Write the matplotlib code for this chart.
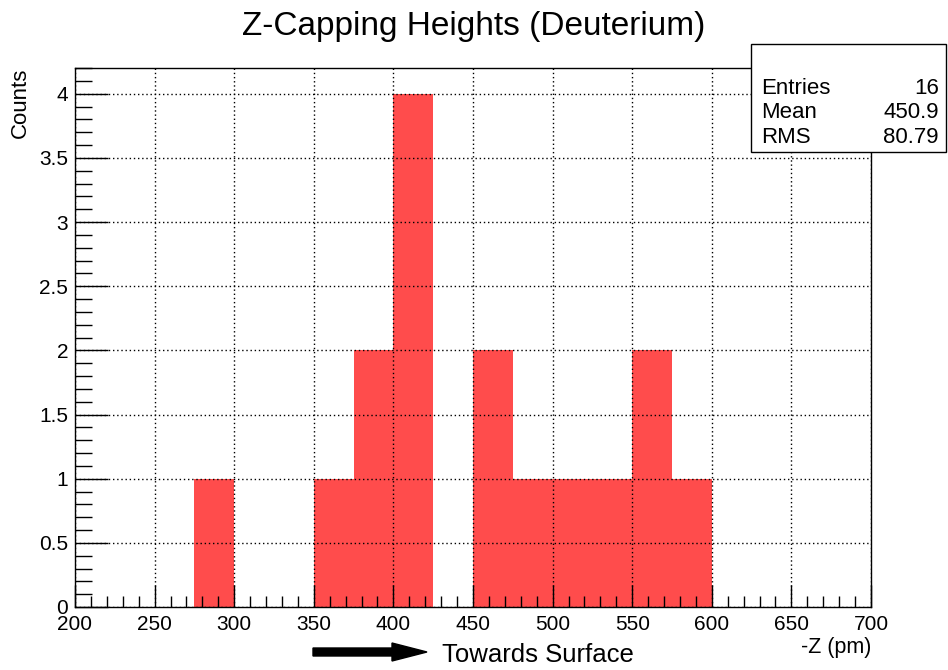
import numpy as np
import matplotlib
matplotlib.use("Agg")
from matplotlib import pyplot as plt
from matplotlib.patches import FancyArrow, Rectangle
from matplotlib.ticker import MultipleLocator
from matplotlib.transforms import IdentityTransform

plt.rcParams["font.family"] = ["Liberation Sans", "DejaVu Sans"]

# histogram data: 25 pm bins from 200 to 700
bin_edges = [200, 225, 250, 275, 300, 325, 350, 375, 400, 425, 450,
             475, 500, 525, 550, 575, 600, 625, 650, 675, 700]
counts = [0, 0, 0, 1, 0, 0, 1, 2, 4, 0, 2,
          1, 1, 1, 2, 1, 0, 0, 0, 0]

title = "Z-Capping Heights (Deuterium)"
stats_labels = ["Entries", "Mean", "RMS"]
stats_values = ["16", "450.9", "80.79"]

BAR_CLR = "#ff4c4c"

W, H = 948, 670
fig = plt.figure(figsize=(W / 100, H / 100), dpi=100)
ax = fig.add_axes([75 / W, 1 - 607 / H, (871 - 75) / W, (607 - 68) / H])

ax.stairs(counts, bin_edges, fill=True, color=BAR_CLR, zorder=1)

ax.set_xlim(200, 700)
ax.set_ylim(0, 4.2)
ax.xaxis.set_major_locator(MultipleLocator(50))
ax.xaxis.set_minor_locator(MultipleLocator(10))
ax.yaxis.set_minor_locator(MultipleLocator(0.1))
ax.set_yticks(np.arange(0, 4.01, 0.5))
ax.set_yticklabels(["0", "0.5", "1", "1.5", "2", "2.5", "3", "3.5", "4"])

ax.tick_params(which="both", direction="in", top=False, right=False,
               labelsize=15, width=1, color="black")
ax.tick_params(axis="x", which="major", length=16, pad=6)
ax.tick_params(axis="x", which="minor", length=8)
ax.tick_params(axis="y", which="major", length=24, pad=5)
ax.tick_params(axis="y", which="minor", length=12)

ax.grid(True, which="major", color="black", ls=(0, (1, 2)), lw=1)
ax.set_axisbelow(False)
for s in ax.spines.values():
    s.set_linewidth(1)
    s.set_zorder(4)

# titles and axis labels
fig.text(0.5, 1 - 35 / H, title, ha="center", va="baseline", fontsize=24)
fig.text(871 / W, 17 / H, "-Z (pm)", ha="right", va="baseline", fontsize=15.5)
fig.text(20 / W, 1 - 68 / H, "Counts", ha="center", va="top",
         rotation=90, fontsize=16)
fig.text(442 / W, 8 / H, "Towards Surface", ha="left", va="baseline", fontsize=18.5)

# black arrow under the axis
fig.add_artist(FancyArrow(313, H - 652, 114, 0, width=8, head_width=18,
                          head_length=35, length_includes_head=True,
                          color="black", transform=IdentityTransform()))

# stats box
fig.add_artist(Rectangle((751 / W, 1 - 152 / H), (946 - 751) / W, (152 - 44) / H,
                         transform=fig.transFigure, facecolor="white",
                         edgecolor="black", lw=1, zorder=5))
for i, (lab, val) in enumerate(zip(stats_labels, stats_values)):
    y = 1 - (94 + i * 24.5) / H
    fig.text(761 / W, y, lab, ha="left", va="baseline", fontsize=16, zorder=6)
    fig.text(939 / W, y, val, ha="right", va="baseline", fontsize=16, zorder=6)

fig.savefig("out.png", dpi=100)
